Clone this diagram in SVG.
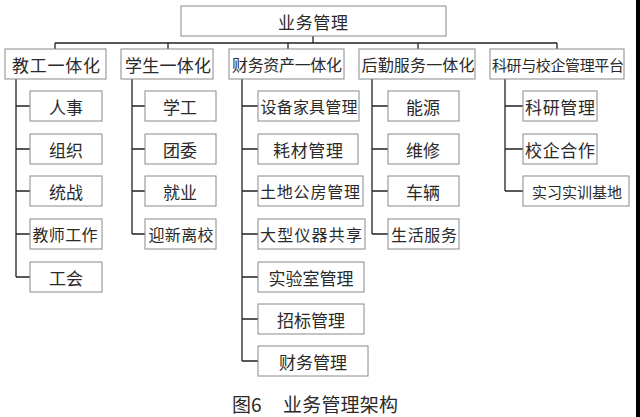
<svg xmlns="http://www.w3.org/2000/svg" width="640" height="417" viewBox="0 0 640 417">
<style>
.box{fill:#fff;stroke:#8a8a8a;stroke-width:1}
.t{font-family:"Noto Sans CJK SC","Liberation Serif",serif;fill:#2a2a2a;text-anchor:middle;dominant-baseline:central}
.c{fill:none;stroke:#222;stroke-width:1.3}
</style>
<rect x="0" y="0" width="640" height="417" fill="#fff"/>
<rect x="636" y="0" width="4" height="417" fill="#000"/>
<g id="connectors">
<path class="c" d="M313 36V43M55 43H557M55 43V49M168 43V49M288 43V49M418 43V49M557 43V49"/>
<path class="c" d="M16 79V277M16 106H30M16 149H30M16 191H30M16 234H30M16 277H30"/>
<path class="c" d="M132 79V234M132 106H145M132 149H145M132 191H145M132 234H145"/>
<path class="c" d="M242 79V361M242 106H258M242 149H258M242 191H258M242 234H258M242 277H258M242 319H258M242 361H258"/>
<path class="c" d="M372 79V234M372 106H388M372 149H388M372 191H388M372 234H388"/>
<path class="c" d="M505 79V191M505 106H523M505 149H523M505 191H523"/>
</g>
<g id="root"><rect class="box" x="181" y="6" width="265" height="30"/><text class="t" x="313" y="21" font-size="17" textLength="70">业务管理</text></g>
<g id="l1-1"><rect class="box" x="5" y="49" width="101" height="30"/><text class="t" x="56" y="64" font-size="17" textLength="88">教工一体化</text></g>
<g id="l1-2"><rect class="box" x="121" y="49" width="92" height="30"/><text class="t" x="168" y="64" font-size="17" textLength="86">学生一体化</text></g>
<g id="l1-3"><rect class="box" x="229" y="49" width="115" height="30"/><text class="t" x="287" y="64" font-size="16" textLength="110">财务资产一体化</text></g>
<g id="l1-4"><rect class="box" x="359" y="49" width="116" height="30"/><text class="t" x="418" y="64" font-size="16" textLength="113">后勤服务一体化</text></g>
<g id="l1-5"><rect class="box" x="490" y="49" width="134" height="30"/><text class="t" x="558" y="64" font-size="15" textLength="132">科研与校企管理平台</text></g>

<g id="c1-1"><rect class="box" x="30" y="91" width="72" height="30"/><text class="t" x="66" y="106" font-size="17">人事</text></g>
<g id="c1-2"><rect class="box" x="30" y="134" width="72" height="30"/><text class="t" x="66" y="149" font-size="17">组织</text></g>
<g id="c1-3"><rect class="box" x="30" y="176" width="72" height="30"/><text class="t" x="66" y="191" font-size="17">统战</text></g>
<g id="c1-4"><rect class="box" x="30" y="219" width="72" height="30"/><text class="t" x="65" y="234" font-size="16" textLength="65">教师工作</text></g>
<g id="c1-5"><rect class="box" x="30" y="262" width="72" height="30"/><text class="t" x="66" y="277" font-size="17">工会</text></g>

<g id="c2-1"><rect class="box" x="145" y="91" width="71" height="30"/><text class="t" x="180" y="106" font-size="17">学工</text></g>
<g id="c2-2"><rect class="box" x="145" y="134" width="71" height="30"/><text class="t" x="180" y="149" font-size="17">团委</text></g>
<g id="c2-3"><rect class="box" x="145" y="176" width="71" height="30"/><text class="t" x="180" y="191" font-size="17">就业</text></g>
<g id="c2-4"><rect class="box" x="145" y="219" width="71" height="30"/><text class="t" x="181" y="234" font-size="16" textLength="65">迎新离校</text></g>

<g id="c3-1"><rect class="box" x="258" y="91" width="101" height="30"/><text class="t" x="309" y="106" font-size="16" textLength="97">设备家具管理</text></g>
<g id="c3-2"><rect class="box" x="258" y="134" width="100" height="30"/><text class="t" x="308" y="149" font-size="17" textLength="70">耗材管理</text></g>
<g id="c3-3"><rect class="box" x="258" y="176" width="105" height="30"/><text class="t" x="310" y="191" font-size="16" textLength="100">土地公房管理</text></g>
<g id="c3-4"><rect class="box" x="258" y="219" width="107" height="30"/><text class="t" x="311" y="234" font-size="16" textLength="102">大型仪器共享</text></g>
<g id="c3-5"><rect class="box" x="258" y="262" width="106" height="30"/><text class="t" x="311" y="277" font-size="17" textLength="85">实验室管理</text></g>
<g id="c3-6"><rect class="box" x="258" y="304" width="106" height="30"/><text class="t" x="311" y="319" font-size="17" textLength="68">招标管理</text></g>
<g id="c3-7"><rect class="box" x="258" y="346" width="110" height="30"/><text class="t" x="313" y="361" font-size="17" textLength="68">财务管理</text></g>

<g id="c4-1"><rect class="box" x="388" y="91" width="71" height="30"/><text class="t" x="423" y="106" font-size="17">能源</text></g>
<g id="c4-2"><rect class="box" x="388" y="134" width="71" height="30"/><text class="t" x="423" y="149" font-size="17">维修</text></g>
<g id="c4-3"><rect class="box" x="388" y="176" width="71" height="30"/><text class="t" x="423" y="191" font-size="17">车辆</text></g>
<g id="c4-4"><rect class="box" x="388" y="219" width="71" height="30"/><text class="t" x="424" y="234" font-size="16" textLength="66">生活服务</text></g>

<g id="c5-1"><rect class="box" x="523" y="91" width="74" height="30"/><text class="t" x="560" y="106" font-size="17" textLength="70">科研管理</text></g>
<g id="c5-2"><rect class="box" x="523" y="134" width="74" height="30"/><text class="t" x="560" y="149" font-size="17" textLength="70">校企合作</text></g>
<g id="c5-3"><rect class="box" x="523" y="176" width="106" height="30"/><text class="t" x="577" y="191" font-size="15" textLength="90">实习实训基地</text></g>

<text class="t" y="403" font-size="19" style="text-anchor:start"><tspan x="232">图6</tspan><tspan x="283" textLength="115">业务管理架构</tspan></text>
</svg>
